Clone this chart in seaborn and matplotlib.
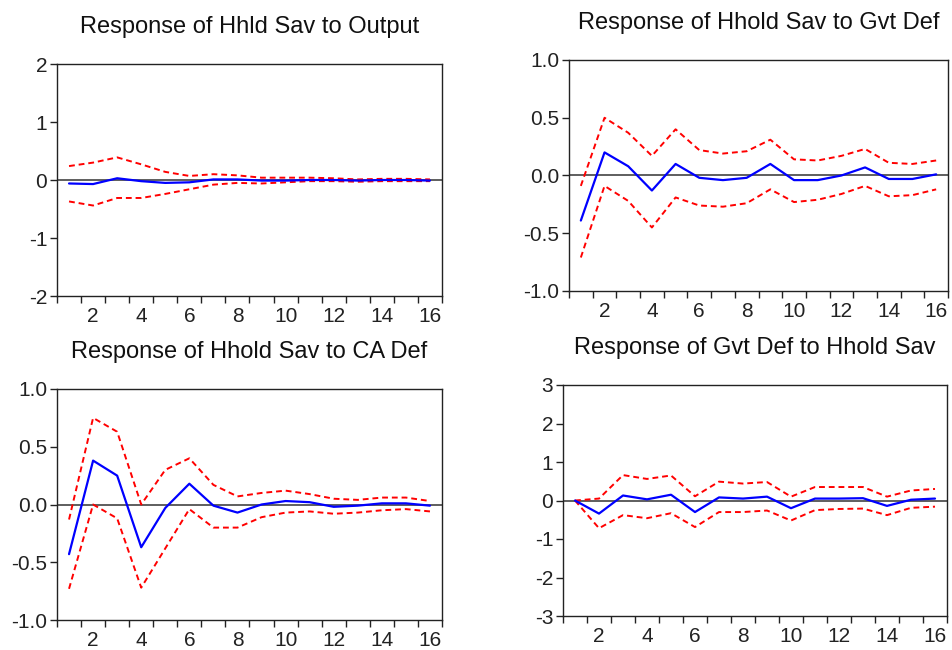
import numpy as np
import pandas as pd
import matplotlib
matplotlib.use("Agg")
import matplotlib.pyplot as plt
import seaborn as sns

# ----------------------------------
# Data
# ----------------------------------

periods = list(range(1, 17))

titles = [
    "Response of Hhld Sav to Output",
    "Response of Hhold Sav to Gvt Def",
    "Response of Hhold Sav to CA Def",
    "Response of Gvt Def to Hhold Sav",
]

# Hhld Sav to Output
resp_out = [-0.06, -0.07, 0.03, -0.02, -0.05, -0.04, 0.01, 0.01,
            -0.01, -0.01, 0.00, 0.00, -0.01, 0.00, 0.00, -0.01]
up_out = [0.24, 0.30, 0.39, 0.27, 0.14, 0.07, 0.10, 0.08,
          0.04, 0.04, 0.04, 0.03, 0.01, 0.02, 0.02, 0.01]
lo_out = [-0.37, -0.44, -0.31, -0.31, -0.24, -0.16, -0.08, -0.05,
          -0.06, -0.04, -0.02, -0.02, -0.03, -0.02, -0.02, -0.02]

# Hhold Sav to Gvt Def
resp_gvt = [-0.39, 0.20, 0.08, -0.13, 0.10, -0.02, -0.04, -0.02,
            0.10, -0.04, -0.04, 0.00, 0.07, -0.03, -0.03, 0.01]
up_gvt = [-0.09, 0.50, 0.37, 0.17, 0.40, 0.22, 0.19, 0.21,
          0.31, 0.14, 0.13, 0.17, 0.23, 0.11, 0.10, 0.13]
lo_gvt = [-0.71, -0.09, -0.22, -0.45, -0.19, -0.26, -0.27, -0.24,
          -0.12, -0.23, -0.21, -0.16, -0.09, -0.18, -0.17, -0.12]

# Hhold Sav to CA Def
resp_ca = [-0.43, 0.38, 0.25, -0.37, -0.03, 0.18, -0.01, -0.07,
           0.00, 0.03, 0.02, -0.02, -0.01, 0.01, 0.01, -0.01]
up_ca = [-0.13, 0.75, 0.63, 0.00, 0.30, 0.40, 0.17, 0.07,
         0.10, 0.12, 0.09, 0.05, 0.04, 0.06, 0.06, 0.03]
lo_ca = [-0.73, 0.00, -0.12, -0.72, -0.38, -0.04, -0.20, -0.20,
         -0.11, -0.07, -0.06, -0.08, -0.07, -0.05, -0.04, -0.06]

# Gvt Def to Hhold Sav
resp_hh = [0.00, -0.34, 0.13, 0.03, 0.15, -0.30, 0.08, 0.05,
           0.10, -0.20, 0.05, 0.05, 0.06, -0.14, 0.02, 0.05]
up_hh = [0.00, 0.05, 0.66, 0.56, 0.65, 0.11, 0.49, 0.44,
         0.48, 0.10, 0.35, 0.35, 0.35, 0.10, 0.26, 0.30]
lo_hh = [0.00, -0.72, -0.38, -0.46, -0.33, -0.69, -0.30, -0.30,
         -0.26, -0.52, -0.25, -0.22, -0.21, -0.38, -0.19, -0.16]

y_limits = [(-2, 2), (-1, 1), (-1, 1), (-3, 3)]
y_ticks = [
    [-2, -1, 0, 1, 2],
    [-1.0, -0.5, 0.0, 0.5, 1.0],
    [-1.0, -0.5, 0.0, 0.5, 1.0],
    [-3, -2, -1, 0, 1, 2, 3],
]
y_fmt = ["{:.0f}", "{:.1f}", "{:.1f}", "{:.0f}"]

series = [
    (resp_out, up_out, lo_out),
    (resp_gvt, up_gvt, lo_gvt),
    (resp_ca, up_ca, lo_ca),
    (resp_hh, up_hh, lo_hh),
]

# ----------------------------------
# Style
# ----------------------------------

sns.set_style("white")
plt.rcParams["font.family"] = ["Liberation Sans", "DejaVu Sans"]
plt.rcParams["axes.unicode_minus"] = False

W, H = 953, 650
fig = plt.figure(figsize=(W / 100, H / 100), dpi=100)

# axes boxes in pixels: left, right, top, bottom
boxes = [
    (57, 442, 64, 296),
    (569, 948, 60, 291),
    (57, 442, 389, 620),
    (563, 947, 385, 616),
]

text_color = "#222222"

for i in range(4):
    l, r, t, b = boxes[i]
    ax = fig.add_axes([l / W, 1 - b / H, (r - l) / W, (b - t) / H])

    resp, up, lo = series[i]
    df = pd.DataFrame({
        "period": periods * 3,
        "value": resp + up + lo,
        "band": ["resp"] * 16 + ["up"] * 16 + ["lo"] * 16,
    })

    ax.axhline(0, color="#333333", linewidth=1.1, zorder=1)

    sns.lineplot(
        data=df[df["band"] == "resp"],
        x="period", y="value",
        color="#0000FF", linewidth=1.6, ax=ax, zorder=3
    )
    for band in ["up", "lo"]:
        sns.lineplot(
            data=df[df["band"] == band],
            x="period", y="value",
            color="#FF0000", linewidth=1.4, linestyle=(0, (3, 2)),
            ax=ax, zorder=2
        )

    ax.set_xlim(0.5, 16.5)
    ax.set_ylim(*y_limits[i])
    ax.set_xlabel("")
    ax.set_ylabel("")

    ax.set_xticks(range(2, 17, 2))
    ax.set_xticklabels([str(p) for p in range(2, 17, 2)])
    ax.set_xticks(np.arange(0.5, 17, 1.0), minor=True)
    ax.set_yticks(y_ticks[i])
    ax.set_yticklabels([y_fmt[i].format(v) for v in y_ticks[i]])

    ax.tick_params(axis="x", which="major", length=0, pad=8,
                   labelsize=15, labelcolor=text_color)
    ax.tick_params(axis="x", which="minor", length=5, width=1,
                   direction="out", bottom=True, color="#222222")
    ax.tick_params(axis="y", which="major", length=5, width=1, pad=2,
                   direction="out", left=True, labelsize=15,
                   labelcolor=text_color, color="#222222")

    for side in ["left", "right", "top", "bottom"]:
        ax.spines[side].set_visible(True)
        ax.spines[side].set_color("#222222")
        ax.spines[side].set_linewidth(1.0)

    ax.set_title(titles[i], fontsize=17, color="#111111", pad=22)

fig.savefig("out.png", dpi=100)
plt.close(fig)
